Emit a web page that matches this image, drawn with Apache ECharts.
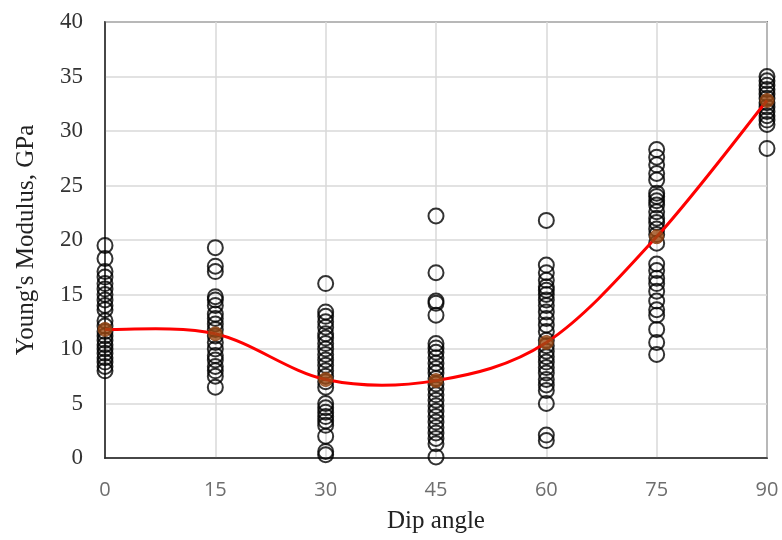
<!DOCTYPE html>
<html>
<head>
<meta charset="utf-8">
<script src="https://cdn.jsdelivr.net/npm/echarts@6/dist/echarts.min.js"></script>
<style>html,body{margin:0;padding:0;background:#fff}#c{width:782px;height:540px}</style>
</head>
<body>
<div id="c"></div>
<script>
var dipAngles = [0, 15, 30, 45, 60, 75, 90];
var xTicks = [0, 15, 30, 45, 60, 75, 90];
var yTicks = [0, 5, 10, 15, 20, 25, 30, 35, 40];

var samples0 = [19.5, 18.3, 17.1, 16.6, 16.0, 15.5, 15.0, 14.5, 14.0, 13.6, 12.6, 12.1, 11.6, 11.2, 10.8, 10.4, 10.0, 9.6, 9.2, 8.8, 8.4, 8.0];
var samples15 = [19.3, 17.6, 17.1, 14.8, 14.5, 14.0, 13.2, 12.8, 12.3, 11.8, 11.2, 10.6, 10.0, 9.4, 9.0, 8.4, 8.0, 7.5, 6.5];
var samples30 = [16.0, 13.4, 13.0, 12.5, 12.0, 11.4, 11.0, 10.5, 10.0, 9.5, 9.0, 8.5, 8.0, 7.5, 7.0, 6.5, 5.0, 4.6, 4.2, 3.8, 3.4, 3.0, 2.0, 0.6, 0.3];
var samples45 = [22.2, 17.0, 14.4, 14.2, 13.1, 10.5, 10.1, 9.7, 9.2, 8.7, 8.2, 7.8, 7.3, 6.8, 6.3, 5.8, 5.3, 4.8, 4.3, 3.8, 3.3, 2.8, 2.3, 1.8, 1.3, 0.1];
var samples60 = [21.8, 17.7, 17.0, 16.3, 15.7, 15.4, 15.0, 14.5, 14.0, 13.4, 12.8, 12.2, 11.6, 10.8, 10.3, 9.8, 9.3, 8.8, 8.3, 7.8, 7.2, 6.7, 6.2, 5.0, 2.1, 1.6];
var samples75 = [28.3, 27.6, 26.9, 26.1, 25.5, 24.3, 24.0, 23.6, 23.2, 22.6, 22.0, 21.6, 21.0, 20.5, 19.7, 17.8, 17.2, 16.5, 16.0, 15.3, 14.4, 13.6, 13.1, 11.8, 10.6, 9.5];
var samples90 = [35.0, 34.6, 34.2, 33.8, 33.4, 33.0, 32.6, 32.2, 31.8, 31.4, 31.0, 30.6, 28.4];
var meanValues = [11.8, 11.4, 7.2, 7.1, 10.6, 20.3, 32.8];

var allSamples = [samples0, samples15, samples30, samples45, samples60, samples75, samples90];
var scatterData = [];
allSamples.forEach(function (arr, i) {
  arr.forEach(function (v) { scatterData.push([dipAngles[i], v]); });
});
var meanData = dipAngles.map(function (a, i) { return [a, meanValues[i]]; });

// Smoothed (Catmull-Rom style) segment between mean i and i+1, drawn through the axes' scales
function renderSegment(params, api) {
  var i = params.dataIndex;
  if (i >= meanData.length - 1) return null;
  var n = meanData.length;
  var p0 = api.coord(meanData[Math.max(i - 1, 0)]);
  var p1 = api.coord(meanData[i]);
  var p2 = api.coord(meanData[i + 1]);
  var p3 = api.coord(meanData[Math.min(i + 2, n - 1)]);
  var t = 1 / 6;
  return {
    type: 'bezierCurve',
    shape: {
      x1: p1[0], y1: p1[1], x2: p2[0], y2: p2[1],
      cpx1: p1[0] + (p2[0] - p0[0]) * t, cpy1: p1[1] + (p2[1] - p0[1]) * t,
      cpx2: p2[0] - (p3[0] - p1[0]) * t, cpy2: p2[1] - (p3[1] - p1[1]) * t
    },
    style: {stroke: '#ff0000', lineWidth: 3, fill: null}
  };
}

var chart = echarts.init(document.getElementById('c'), null, {renderer: 'canvas'});
chart.setOption({
  animation: false,
  backgroundColor: '#ffffff',
  grid: {left: 105, right: 15, top: 22, bottom: 82, show: true, borderColor: '#222', borderWidth: 1.5,
    backgroundColor: 'transparent', containLabel: false, outerBoundsMode: 'none'},
  xAxis: {
    type: 'value', min: 0, max: 90, interval: 15,
    name: 'Dip angle', nameLocation: 'middle', nameGap: 51,
    nameTextStyle: {fontFamily: 'Liberation Serif', fontSize: 25, color: '#222'},
    axisLine: {show: true, lineStyle: {color: '#222', width: 1.5}},
    axisTick: {show: false},
    axisLabel: {margin: 22, fontFamily: 'Open Sans', fontSize: 20, color: '#6e6e6e',
      formatter: function (v) { return xTicks.indexOf(v) >= 0 ? String(v) : ''; }},
    splitLine: {show: true, lineStyle: {color: '#d9d9d9', width: 1.5}}
  },
  yAxis: {
    type: 'value', min: 0, max: 40, interval: 5,
    name: "Young's Modulus, GPa", nameLocation: 'middle', nameGap: 66, nameRotate: 90,
    nameTextStyle: {fontFamily: 'Liberation Serif', fontSize: 25, color: '#222'},
    axisLine: {show: true, lineStyle: {color: '#222', width: 1.5}},
    axisTick: {show: false},
    axisLabel: {margin: 22, fontFamily: 'Liberation Serif', fontSize: 23, color: '#333',
      formatter: function (v) { return yTicks.indexOf(v) >= 0 ? String(v) : ''; }},
    splitLine: {show: true, lineStyle: {color: '#d9d9d9', width: 1.5}}
  },
  series: [
    {
      type: 'scatter', data: scatterData, symbol: 'circle', symbolSize: 15, z: 2,
      itemStyle: {color: 'rgba(0,0,0,0)', borderColor: '#000', borderWidth: 2}
    },
    {
      type: 'custom', data: meanData, renderItem: renderSegment, z: 3, clip: false,
      encode: {x: 0, y: 1}
    },
    {
      type: 'scatter', data: meanData, symbol: 'circle', symbolSize: 14, z: 4,
      itemStyle: {color: '#9c4a14', borderColor: '#8a3f10', borderWidth: 1}
    }
  ]
});
</script>
</body>
</html>
